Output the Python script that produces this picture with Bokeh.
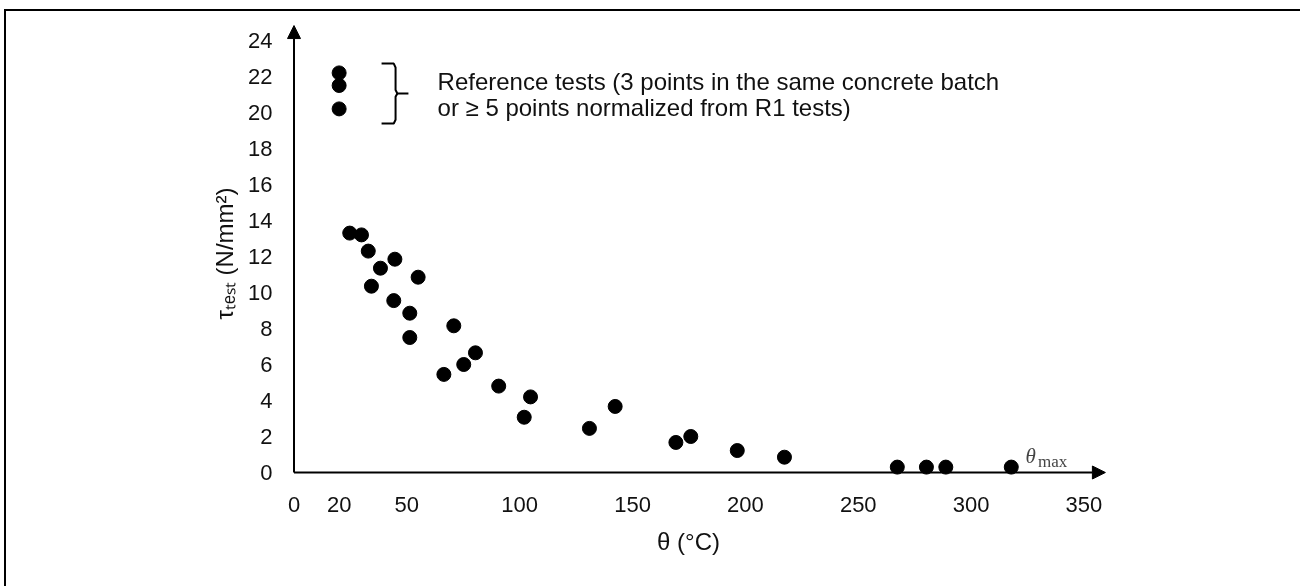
from bokeh.plotting import figure
from bokeh.models import FixedTicker, Arrow, NormalHead, Label, Range1d
from bokeh.embed import file_html
from bokeh.resources import INLINE

# ---------------- data ----------------
ref_theta = [20, 20, 20]
ref_tau = [22.2, 21.5, 20.2]

test_theta = [24.7, 29.9, 32.9, 34.3, 38.3, 44.7, 44.2, 51.3, 51.3, 55.0,
              66.4, 70.8, 75.2, 80.4, 90.7, 102.0, 104.8, 130.9, 142.3,
              169.2, 175.8, 196.4, 217.3, 267.3, 280.2, 288.8, 317.8]
test_tau = [13.3, 13.2, 12.3, 10.35, 11.35, 11.85, 9.55, 8.85, 7.5, 10.85,
            5.45, 8.15, 6.0, 6.65, 4.8, 3.07, 4.2, 2.45, 3.67,
            1.67, 2.0, 1.22, 0.85, 0.3, 0.3, 0.3, 0.3]

x_ticks = [0, 20, 50, 100, 150, 200, 250, 300, 350]
y_ticks = [0, 2, 4, 6, 8, 10, 12, 14, 16, 18, 20, 22, 24]

# ---------------- layout (screen px) ----------------
OX, OY = 6, 11                              # canvas offset inside the page border
W, H = 1330 - OX, 600 - OY                  # canvas runs past the window edge (frame is cut off there)
FL, FR, FT, FB = 266 - OX, 1110 - OX, 20 - OY, 486 - OY   # frame edges (canvas px)
X0, Y0 = 293.5 - OX, 472.0 - OY            # canvas pixel of data origin
SX, SY = 2.257, 18.0                        # px per unit

x_start = (FL - X0) / SX
x_end = (FR - X0) / SX
y_start = -(FB - Y0) / SY
y_end = (Y0 - FT) / SY

p = figure(width=W, height=H, output_backend="svg", toolbar_location=None,
           x_range=Range1d(x_start, x_end), y_range=Range1d(y_start, y_end),
           min_border_left=FL, min_border_right=W - FR,
           min_border_top=FT, min_border_bottom=H - FB,
           styles={"position": "fixed", "left": "4px", "top": "9px",
                   "border-left": "2px solid black", "border-top": "2px solid black"})
p.outline_line_color = None
p.grid.visible = False
p.background_fill_color = "white"
p.border_fill_color = "white"

FONT = "Liberation Sans"
for ax in (p.xaxis[0], p.yaxis[0]):
    ax.axis_line_color = None
    ax.major_tick_line_color = None
    ax.minor_tick_line_color = None
    ax.major_tick_out = 0
    ax.major_tick_in = 0
    ax.minor_tick_out = 0
    ax.major_label_text_font = FONT
    ax.major_label_text_font_size = "22px"
    ax.major_label_text_color = "#111111"
    ax.axis_label_text_font = FONT
    ax.axis_label_text_font_size = "24px"
    ax.axis_label_text_font_style = "normal"
    ax.axis_label_text_color = "#111111"

p.xaxis.ticker = FixedTicker(ticks=x_ticks)
p.yaxis.ticker = FixedTicker(ticks=y_ticks)
p.xaxis.major_label_standoff = 10
p.yaxis.major_label_standoff = -6
p.xaxis.axis_label = "θ (°C)"
p.yaxis.axis_label = "τₜₑₛₜ (N/mm²)"
p.xaxis.axis_label_standoff = 13
p.yaxis.axis_label_standoff = 7

# axes as arrows
head = dict(size=13, fill_color="black", line_color="black", line_width=1)
p.add_layout(Arrow(end=NormalHead(**head), x_start=0, y_start=0, x_end=0, y_end=24.83,
                   line_width=2, line_color="black"))
p.add_layout(Arrow(end=NormalHead(**head), x_start=0, y_start=0, x_end=359.5, y_end=0,
                   line_width=2, line_color="black"))

# points
p.scatter(ref_theta, ref_tau, size=14, color="black")
p.scatter(test_theta, test_tau, size=14, color="black")

# bracket "}"
bx, bl, bp = 45.0, 38.8, 50.7
p.line([bl, bx - 0.8, bx, bx, bx + 0.8, bp], [22.72, 22.72, 22.5, 21.25, 21.06, 21.06],
       line_width=2, line_color="black")
p.line([bl, bx - 0.8, bx, bx, bx + 0.8], [19.39, 19.39, 19.6, 20.87, 21.06],
       line_width=2, line_color="black")

# annotation text
p.add_layout(Label(x=63.6, y=21.72, text="Reference tests (3 points in the same concrete batch",
                   text_font=FONT, text_font_size="24px", text_baseline="middle", text_color="#111111"))
p.add_layout(Label(x=63.6, y=20.28, text="or ≥ 5 points normalized from R1 tests)",
                   text_font=FONT, text_font_size="24px", text_baseline="middle", text_color="#111111"))

# theta_max label
p.add_layout(Label(x=324.1, y=0.9, text="θ", text_font="Liberation Serif", text_font_style="italic",
                   text_font_size="21px", text_baseline="alphabetic"))
p.add_layout(Label(x=329.6, y=0.62, text="max", text_font="Liberation Serif",
                   text_font_size="17px", text_baseline="alphabetic"))

open("out.html", "w").write(file_html(p, INLINE))
